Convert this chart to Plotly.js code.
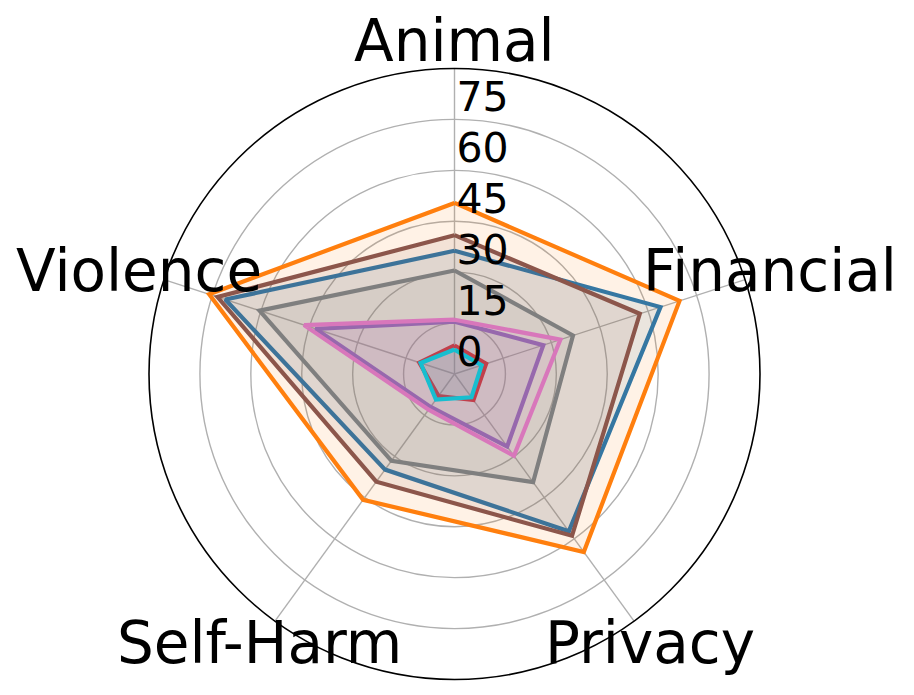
<!DOCTYPE html>
<html>
<head>
<meta charset="utf-8">
<script src="https://cdn.plot.ly/plotly-3.0.1.min.js"></script>
<style>
  html, body { margin: 0; padding: 0; background: #fff; }
  #g0 { width: 914px; height: 695px; }
</style>
</head>
<body>
<div id="g0"></div>
<script>
const categories = ['Animal', 'Financial', 'Privacy', 'Self-Harm', 'Violence'];
const radialTicks = [0, 15, 30, 45, 60, 75];

// values, one array per polygon (drawing order)
const seriesBlue = [36.3, 63.8, 57.3, 34.8, 71.0];
const seriesOrange = [50.4, 69.7, 64.8, 45.8, 76.0];
const seriesRed = [8.4, 9.8, 9.5, 8.0, 10.9];
const seriesPurple = [15.4, 27.5, 26.4, 12.0, 43.1];
const seriesBrown = [40.9, 57.4, 58.9, 39.2, 73.4];
const seriesPink = [16.0, 32.8, 29.8, 13.0, 46.6];
const seriesGray = [30.5, 36.7, 39.4, 31.6, 60.4];
const seriesCyan = [7.2, 8.4, 8.5, 9.3, 10.5];

const series = [
  [seriesBlue, '#1f77b4', 'rgba(31,119,180,0.1)'],
  [seriesOrange, '#ff7f0e', 'rgba(255,127,14,0.1)'],
  [seriesRed, '#d62728', 'rgba(214,39,40,0.1)'],
  [seriesPurple, '#9467bd', 'rgba(148,103,189,0.1)'],
  [seriesBrown, '#8c564b', 'rgba(140,86,75,0.1)'],
  [seriesPink, '#e377c2', 'rgba(227,119,194,0.1)'],
  [seriesGray, '#7f7f7f', 'rgba(127,127,127,0.1)'],
  [seriesCyan, '#17becf', 'rgba(23,190,207,0.1)'],
];

const font = 'DejaVu Sans, sans-serif';
const rMax = 90;
const plotSize = 612;            // square plot area, px
const pxPerUnit = plotSize / 2 / rMax;
const labelR = 97.8;             // category names, radial units (outside the ring)
const tickShift = 8.5;           // radial labels sit a bit above their circles
const tickNudge = 19;            // and hug the spoke, px to the left

let data = [];

series.forEach(s => {
  const r = s[0].concat([s[0][0]]);
  const theta = categories.concat([categories[0]]);
  data.push({
    type: 'scatterpolar', r, theta, mode: 'lines', fill: 'toself',
    fillcolor: s[2], line: { color: s[1], width: 4.2 },
    hoverinfo: 'skip', showlegend: false, subplot: 'polar',
  });
});

// carrier for the overlay polar that only holds the radial tick labels
data.push({
  type: 'scatterpolar', r: [0], theta: [0], mode: 'markers',
  marker: { opacity: 0 }, hoverinfo: 'skip', showlegend: false, subplot: 'polar2',
});

// category names centred outside the ring (matplotlib style)
const annotations = categories.map((c, i) => {
  const a = (90 - 360 / categories.length * i) * Math.PI / 180;
  const d = labelR * pxPerUnit / plotSize;
  return {
    xref: 'paper', yref: 'paper', x: 0.5 + d * Math.cos(a), y: 0.5 + d * Math.sin(a),
    text: c, showarrow: false, xanchor: 'center', yanchor: 'middle',
    font: { family: font, size: 58, color: '#000' },
  };
});

const half2 = plotSize / 2 - tickNudge;
const layout = {
  width: 914, height: 695,
  margin: { l: 148.5, r: 153.5, t: 68, b: 15 },
  paper_bgcolor: '#fff',
  font: { family: font, color: '#000' },
  showlegend: false,
  annotations,
  polar: {
    domain: { x: [0, 1], y: [0, 1] },
    bgcolor: '#fff',
    radialaxis: {
      range: [0, rMax], tickvals: radialTicks, showticklabels: false,
      showline: false, ticks: '', gridcolor: '#b0b0b0', gridwidth: 1.4,
    },
    angularaxis: {
      rotation: 90, direction: 'clockwise', showticklabels: false, ticks: '',
      gridcolor: '#b0b0b0', gridwidth: 1.4, linecolor: '#000', linewidth: 1.6,
    },
  },
  polar2: {
    domain: {
      x: [0, 2 * half2 / plotSize],
      y: [tickNudge / plotSize, (tickNudge + 2 * half2) / plotSize],
    },
    bgcolor: 'rgba(0,0,0,0)',
    radialaxis: {
      range: [-tickShift, half2 / pxPerUnit - tickShift], tickvals: radialTicks,
      angle: 90, side: 'clockwise', showgrid: false, showline: false, ticks: '',
      tickfont: { family: font, size: 41, color: '#000' },
    },
    angularaxis: { visible: false, showgrid: false, showline: false },
  },
};

Plotly.newPlot('g0', data, layout, { staticPlot: true });
</script>
</body>
</html>
